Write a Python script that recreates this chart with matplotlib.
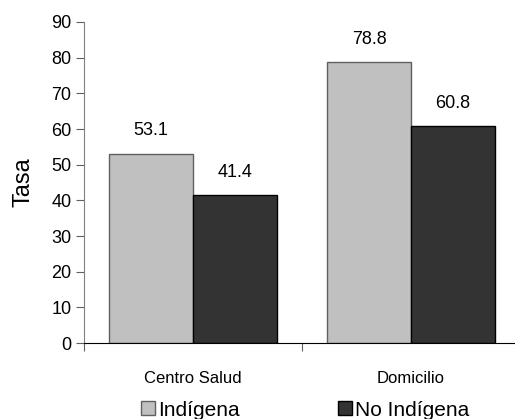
import matplotlib.pyplot as plt
import numpy as np

plt.rcParams['font.family'] = ['Liberation Sans', 'DejaVu Sans']

categorias = ['Centro Salud', 'Domicilio']
indigena = [53.1, 78.8]
no_indigena = [41.4, 60.8]

fig = plt.figure(figsize=(5.15, 4.19), dpi=100)
ax = fig.add_axes([84 / 515, 1 - 343 / 419, 436 / 515, 321 / 419])

x = np.array([0.5, 1.5])
w = 0.385
b1 = ax.bar(x - w / 2, indigena, w, color='#c0c0c0', edgecolor='#606060', linewidth=1, label='Indígena')
b2 = ax.bar(x + w / 2, no_indigena, w, color='#333333', edgecolor='#000000', linewidth=1, label='No Indígena')

# valores encima de cada barra
for bars, vals in ((b1, indigena), (b2, no_indigena)):
    for r, v in zip(bars, vals):
        ax.text(r.get_x() + r.get_width() / 2, v + 6.4, f'{v:.1f}', ha='center', va='center', fontsize=13)

ax.set_xlim(0, 2)
ax.set_ylim(0, 90)
ax.set_yticks(range(0, 91, 10))
ax.set_xticks([0, 1, 2])
ax.set_xticklabels([])
ax.set_xticks(x, minor=True)
ax.set_xticklabels(categorias, minor=True, fontsize=12)
ax.tick_params(axis='x', which='minor', length=0, pad=20)
ax.tick_params(axis='x', which='major', length=6, direction='out', color='#606060')
ax.tick_params(axis='y', length=6, direction='out', color='#606060', labelsize=13, pad=3)

for s in ('top', 'right'):
    ax.spines[s].set_visible(False)
ax.spines['left'].set_color('#808080')
ax.spines['bottom'].set_color('#000000')

ax.set_ylabel('Tasa', fontsize=17, labelpad=12)

fig.legend(handles=[b1, b2], loc='center left', bbox_to_anchor=(141 / 515, 1 - 410 / 419), ncol=2,
           frameon=False, fontsize=15, handlelength=0.67, handleheight=0.67,
           handletextpad=0.15, columnspacing=4.7, borderpad=0, borderaxespad=0)

fig.savefig('out.png', dpi=100)
